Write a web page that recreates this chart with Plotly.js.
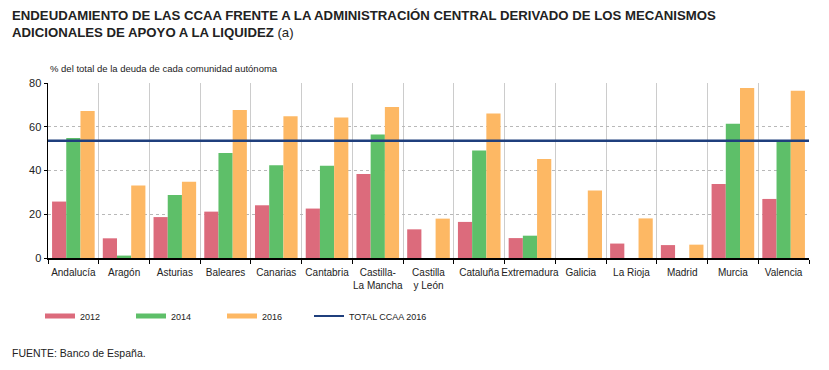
<!DOCTYPE html>
<html>
<head>
<meta charset="utf-8">
<script src="https://cdn.plot.ly/plotly-3.0.1.min.js"></script>
<style>html,body{margin:0;padding:0;background:#fff;}#chart{width:829px;height:370px;}</style>
</head>
<body>
<div id="chart"></div>
<script>
const categories = ["Andalucía","Aragón","Asturias","Baleares","Canarias","Cantabria","Castilla-<br>La Mancha","Castilla<br>y León","Cataluña","Extremadura","Galicia","La Rioja","Madrid","Murcia","Valencia"];
const v2012 = [25.8, 9.0, 18.7, 21.2, 24.1, 22.6, 38.4, 13.1, 16.5, 9.1, 0, 6.6, 5.9, 33.8, 27.0];
const v2014 = [54.9, 1.1, 28.8, 48.0, 42.4, 42.2, 56.5, 0, 49.1, 10.2, 0, 0, 0, 61.4, 53.6];
const v2016 = [67.2, 33.1, 34.9, 67.7, 64.8, 64.2, 69.0, 18.0, 66.1, 45.3, 30.9, 18.1, 6.1, 77.7, 76.5];
const totalCCAA2016 = 53.6;
const seriesNames = ["2012","2014","2016","TOTAL CCAA 2016"];
const yTicks = [0,20,40,60,80];

const colors = ["#dc6b7c","#5ebf69","#fdb864","#1f3f7d"];
const font = "Liberation Sans, Arial, sans-serif";

const barSeries = [v2012, v2014, v2016];
const traces = [];
barSeries.forEach((vals, i) => {
  traces.push({type:"bar", name:seriesNames[i], x:categories, y:vals, marker:{color:colors[i]}, showlegend:false});
});
traces.push({type:"scatter", mode:"lines", name:seriesNames[3], x:[0,1], y:[totalCCAA2016,totalCCAA2016],
   xaxis:"x2", line:{color:colors[3], width:2.5}, showlegend:false});
// legend entries (wide swatches like the reference)
barSeries.forEach((vals, i) => {
  traces.push({type:"scatter", mode:"lines", name:seriesNames[i], x:[null], y:[null], line:{color:colors[i], width:5}, legend:"legend"});
});
traces.push({type:"scatter", mode:"lines", name:seriesNames[3], x:[null], y:[null], line:{color:colors[3], width:2}, legend:"legend2"});

const legY = (258-316)/175;
const layout = {
  width:829, height:370,
  margin:{l:48, r:20, t:83, b:112},
  paper_bgcolor:"#fff", plot_bgcolor:"#fff",
  font:{family:font, size:11, color:"#222"},
  barmode:"group", bargap:0.16, bargroupgap:0,
  showlegend:true,
  xaxis:{
    type:"category", tickson:"boundaries", showgrid:true, gridcolor:"#cccccc", gridwidth:1,
    ticks:"outside", ticklen:4, tickcolor:"#000", showline:true, linecolor:"#000", linewidth:1.5,
    tickfont:{size:10, color:"#222"}, tickangle:0, ticklabelstandoff:4, fixedrange:true, zeroline:false
  },
  xaxis2:{overlaying:"x", range:[0,1], visible:false, fixedrange:true},
  yaxis:{
    range:[0,80], tickvals:yTicks, showgrid:true, gridcolor:"#b8b8b8", griddash:"dot", gridwidth:1,
    showline:true, linecolor:"#000", linewidth:1.5, ticks:"outside", ticklen:3, tickcolor:"#000",
    tickfont:{size:11, color:"#222"}, zeroline:false, fixedrange:true
  },
  legend:{
    orientation:"h", x:-8/761, xanchor:"left", y:legY, yanchor:"middle",
    font:{size:9, color:"#222"}, itemwidth:30, entrywidth:46, entrywidthmode:"pixels", tracegroupgap:0
  },
  legend2:{
    orientation:"h", x:261/761, xanchor:"left", y:legY, yanchor:"middle",
    font:{size:9, color:"#222"}, itemwidth:30
  },
  annotations:[
    {text:"<b>ENDEUDAMIENTO DE LAS CCAA FRENTE A LA ADMINISTRACIÓN CENTRAL DERIVADO DE LOS MECANISMOS</b><br><b>ADICIONALES DE APOYO A LA LIQUIDEZ</b> (a)",
     xref:"paper", yref:"paper", x:-38/761, y:(258-6)/175, xanchor:"left", yanchor:"top", align:"left",
     showarrow:false, font:{size:13.2, color:"#222"}},
    {text:"% del total de la deuda de cada comunidad autónoma", xref:"paper", yref:"paper",
     x:0, y:(258-68)/175, xanchor:"left", yanchor:"middle", showarrow:false, font:{size:9.5, color:"#222"}},
    {text:"FUENTE: Banco de España.", xref:"paper", yref:"paper",
     x:-38/761, y:(258-353)/175, xanchor:"left", yanchor:"middle", showarrow:false, font:{size:10.5, color:"#222"}}
  ]
};

Plotly.newPlot("chart", traces, layout, {displayModeBar:false, staticPlot:true});
</script>
</body>
</html>
